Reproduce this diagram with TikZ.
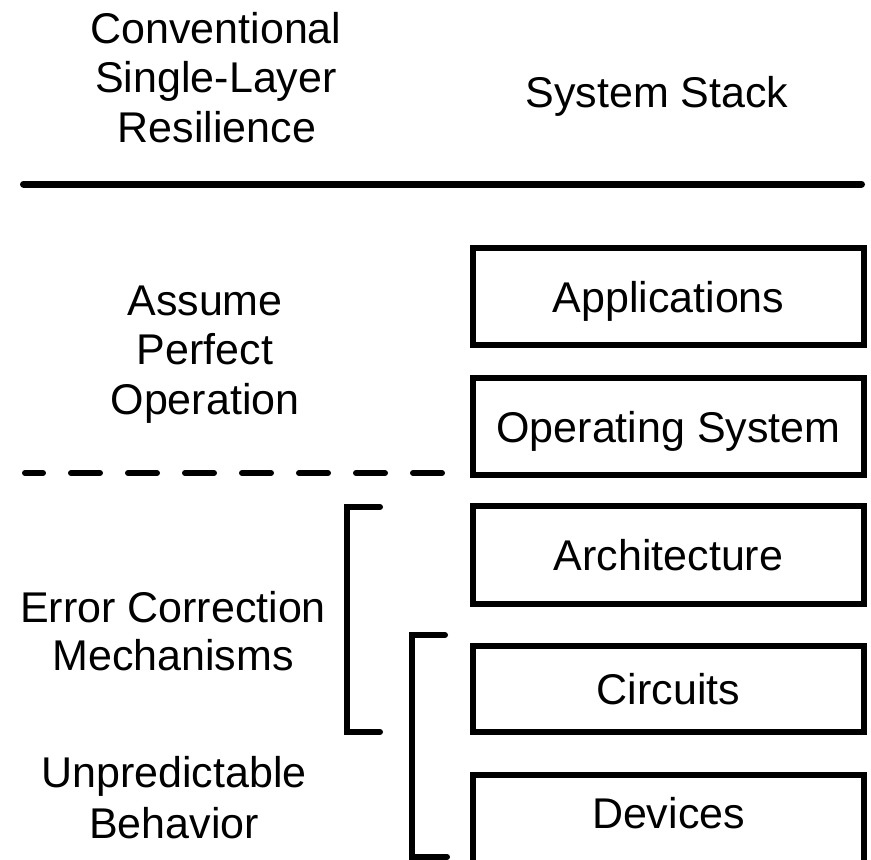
\documentclass[tikz,border=0pt]{standalone}
\usepackage{fontspec}
\setmainfont{Liberation Sans}
\begin{document}
\begin{tikzpicture}[x=1pt,y=-1pt,
  lbl/.style={anchor=base,inner sep=0pt,font=\fontsize{43}{49}\selectfont},
  layer/.style={draw,line width=6pt,line join=miter,inner sep=0pt,
    minimum width=391pt,text height=31pt,text depth=0pt,
    font=\fontsize{43}{49}\selectfont},
  rule/.style={line width=7pt,line cap=round},
  split/.style={line width=6pt,line cap=round,dash pattern=on 29pt off 28pt,dash phase=11pt},
  bracket/.style={line width=6pt,line cap=round,line join=miter}]
\useasboundingbox (0,0) rectangle (871,860);
\clip (0,0) rectangle (871,860);

% column headers
\node[lbl] (h1) at (216,43)  {Conventional};
\node[lbl] (h2) at (216,92)  {Single-Layer};
\node[lbl] (h3) at (217,142) {Resilience};
\node[lbl] (hs) at (657,107) {System Stack};
\draw[rule] (23.5,184) -- (861.5,184);

% upper region
\node[lbl] (a1) at (205,315) {Assume};
\node[lbl] (a2) at (205,364) {Perfect};
\node[lbl] (a3) at (205,414) {Operation};
\draw[split] (25,473) -- (443,473);

% lower region
\node[lbl] (e1) at (173,622) {Error Correction};
\node[lbl] (e2) at (173,670) {Mechanisms};
\node[lbl] (u1) at (174,787) {Unpredictable};
\node[lbl] (u2) at (174,838) {Behavior};

% brackets
\draw[bracket] (380,507) -- (347,507) -- (347,732) -- (380,732);
\draw[bracket] (445,635) -- (412,635) -- (412,857) -- (447,857);

% the stack of layers
\node[layer,minimum height=97pt] (app)  at (668.5,296.5) {Applications};
\node[layer,minimum height=97pt] (os)   at (668.5,426.5) {Operating System};
\node[layer,minimum height=98pt] (arch) at (668.5,555)   {Architecture};
\node[layer,minimum height=86pt] (circ) at (668.5,689)   {Circuits};
\node[layer,minimum height=100pt,text depth=24pt] (dev) at (668.5,825) {Devices};
\end{tikzpicture}
\end{document}
